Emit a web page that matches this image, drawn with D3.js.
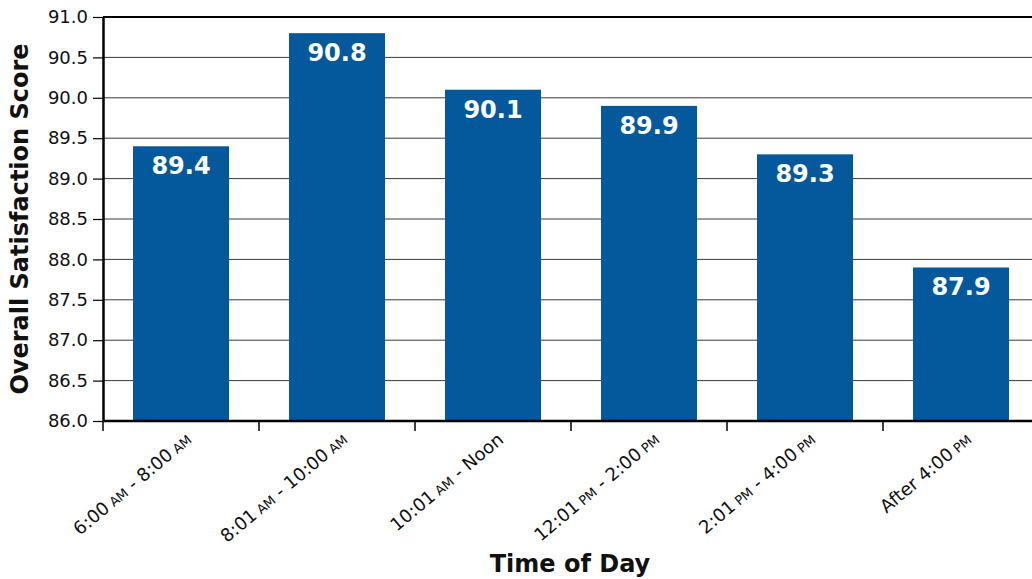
<!DOCTYPE html>
<html>
<head>
<meta charset="utf-8">
<script src="https://cdn.jsdelivr.net/npm/d3@7"></script>
<style>
  html, body { margin: 0; padding: 0; background: #fff; }
  svg { display: block; font-family: "DejaVu Sans", Verdana, sans-serif; }
</style>
</head>
<body>
<svg id="chart" width="1032" height="579"></svg>
<script>
// Time slots: main text plus small-caps AM/PM parts
const categories = [
  [["6:00", ""], ["AM", "s"], [" - 8:00", ""], ["AM", "s"]],
  [["8:01", ""], ["AM", "s"], [" - 10:00", ""], ["AM", "s"]],
  [["10:01", ""], ["AM", "s"], [" - Noon", ""]],
  [["12:01", ""], ["PM", "s"], [" - 2:00", ""], ["PM", "s"]],
  [["2:01", ""], ["PM", "s"], [" - 4:00", ""], ["PM", "s"]],
  [["After 4:00", ""], ["PM", "s"]]
];
const scores = [89.4, 90.8, 90.1, 89.9, 89.3, 87.9];
const yTicks = [86.0, 86.5, 87.0, 87.5, 88.0, 88.5, 89.0, 89.5, 90.0, 90.5, 91.0];

const svg = d3.select("#chart");
const plotLeft = 103, plotRight = 1039, plotTop = 17, plotBottom = 421;

const x = d3.scaleBand()
  .domain(d3.range(categories.length))
  .range([plotLeft, plotRight])
  .paddingInner(60 / 156)
  .paddingOuter(30 / 156);

const y = d3.scaleLinear().domain([86, 91]).range([plotBottom, plotTop]);

// Horizontal gridlines
svg.append("g")
  .selectAll("line")
  .data(yTicks)
  .join("line")
  .attr("x1", plotLeft).attr("x2", 1032)
  .attr("y1", d => y(d)).attr("y2", d => y(d))
  .attr("stroke", d => d === 91 ? "#000" : "#3a3a3a")
  .attr("stroke-width", d => d === 91 ? 2 : 1);

// Bars
svg.append("g")
  .selectAll("rect")
  .data(scores)
  .join("rect")
  .attr("x", (d, i) => x(i))
  .attr("width", x.bandwidth())
  .attr("y", d => y(d))
  .attr("height", d => plotBottom - y(d))
  .attr("fill", "#03599c");

// Value labels inside bars
svg.append("g")
  .selectAll("text")
  .data(scores)
  .join("text")
  .attr("x", (d, i) => x(i) + x.bandwidth() / 2)
  .attr("y", d => y(d) + 28)
  .attr("text-anchor", "middle")
  .attr("fill", "#fff")
  .attr("font-weight", "bold")
  .attr("font-size", 24)
  .text(d => d.toFixed(1));

// Y axis
const yAxis = d3.axisLeft(y)
  .tickValues(yTicks)
  .tickFormat(d3.format(".1f"))
  .tickSize(10)
  .tickSizeOuter(0)
  .tickPadding(5);
const gy = svg.append("g").attr("transform", `translate(${plotLeft},0)`).call(yAxis);
gy.select(".domain").attr("stroke", "#000").attr("stroke-width", 2.5);
gy.selectAll(".tick line").attr("stroke", "#000").attr("stroke-width", 1.2);
gy.selectAll(".tick text").attr("font-size", 18).attr("fill", "#111")
  .attr("font-family", "DejaVu Sans, Verdana, sans-serif");

// X axis baseline and ticks at band boundaries
const step = x.step();
const boundaries = d3.range(categories.length).map(i => x(i) - x.paddingOuter() * step);
svg.append("line")
  .attr("x1", plotLeft).attr("x2", 1032)
  .attr("y1", plotBottom).attr("y2", plotBottom)
  .attr("stroke", "#000").attr("stroke-width", 2.5);
svg.append("line")
  .attr("x1", plotLeft).attr("x2", plotLeft)
  .attr("y1", plotBottom).attr("y2", plotBottom + 10)
  .attr("stroke", "#000").attr("stroke-width", 1.5);
svg.append("g")
  .selectAll("line")
  .data(boundaries.slice(1))
  .join("line")
  .attr("x1", d => d).attr("x2", d => d)
  .attr("y1", plotBottom).attr("y2", plotBottom + 10)
  .attr("stroke", "#000").attr("stroke-width", 1.5);

// Rotated category labels
const xl = svg.append("g")
  .selectAll("text")
  .data(categories)
  .join("text")
  .attr("transform", (d, i) => `translate(${x(i) + x.bandwidth() / 2 + 3},${plotBottom + 10}) rotate(-40)`)
  .attr("text-anchor", "end")
  .attr("dy", "0.75em")
  .attr("fill", "#111")
  .attr("font-size", 18);
xl.selectAll("tspan")
  .data(d => d)
  .join("tspan")
  .attr("font-size", p => p[1] === "s" ? 13 : 18)
  .text(p => p[1] === "s" ? "\u00a0" + p[0] : p[0]);

// Axis titles
svg.append("text")
  .attr("x", 570).attr("y", 572)
  .attr("text-anchor", "middle")
  .attr("font-weight", "bold")
  .attr("font-size", 24)
  .attr("fill", "#111")
  .text("Time of Day");

svg.append("text")
  .attr("transform", `translate(28,219) rotate(-90)`)
  .attr("text-anchor", "middle")
  .attr("font-weight", "bold")
  .attr("font-size", 24)
  .attr("fill", "#111")
  .text("Overall Satisfaction Score");
</script>
</body>
</html>
